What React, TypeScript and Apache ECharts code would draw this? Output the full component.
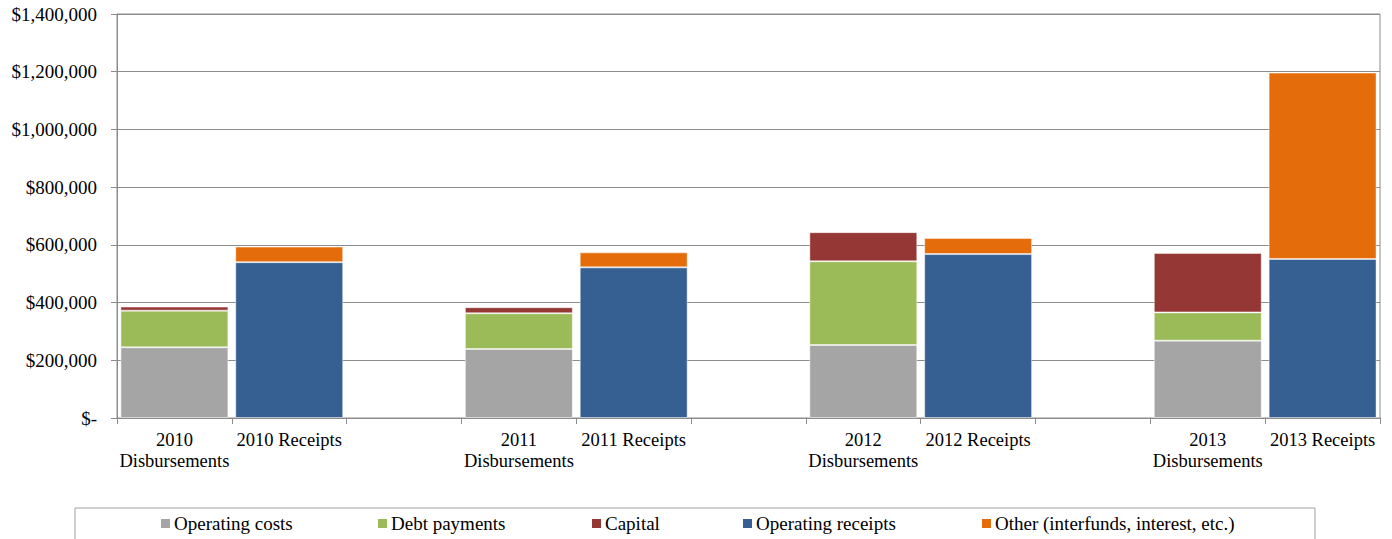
import React, { useEffect, useRef } from "react";
import * as echarts from "echarts";

const years = ["2010", "2011", "2012", "2013"];
const operatingCosts = [245000, 239000, 253000, 268000];
const debtPayments = [127000, 124000, 290000, 98000];
const capital = [14000, 21000, 101000, 206000];
const operatingReceipts = [540000, 522000, 568000, 551000];
const otherReceipts = [54000, 52000, 56000, 646000];
const yTicks = [0, 200000, 400000, 600000, 800000, 1000000, 1200000, 1400000];

const seriesNames = [
  "Operating costs",
  "Debt payments",
  "Capital",
  "Operating receipts",
  "Other (interfunds, interest, etc.)",
];
const seriesColors = ["#A5A5A5", "#9BBB59", "#953735", "#376092", "#E46C0A"];
const legendLefts = [161, 378, 592, 743, 982];

const FONT = "Liberation Serif";

// Build category list: disbursements, receipts, spacer per year
const categories: string[] = [];
years.forEach((y, i) => {
  categories.push(`${y}\nDisbursements`);
  categories.push(`${y} Receipts`);
  if (i < years.length - 1) categories.push(" ".repeat(i + 1));
});

function slotData(values: number[], offset: number) {
  const arr: (number | string)[] = categories.map(() => "-");
  values.forEach((v, i) => {
    arr[i * 3 + offset] = v;
  });
  return arr;
}

export default function App() {
  const ref = useRef<HTMLDivElement>(null);
  useEffect(() => {
    if (!ref.current) return;
    const chart = echarts.init(ref.current, undefined, { renderer: "svg" });
    const dataSets = [
      slotData(operatingCosts, 0),
      slotData(debtPayments, 0),
      slotData(capital, 0),
      slotData(operatingReceipts, 1),
      slotData(otherReceipts, 1),
    ];
    const legendGraphics: any[] = [];
    seriesNames.forEach((n, i) => {
      legendGraphics.push({
        type: "rect",
        shape: { x: legendLefts[i], y: 519, width: 9, height: 9 },
        style: { fill: seriesColors[i] },
        silent: true,
      });
      legendGraphics.push({
        type: "text",
        x: legendLefts[i] + 13,
        y: 523.5,
        style: {
          text: n,
          fill: "#000",
          fontFamily: FONT,
          fontSize: 19,
          verticalAlign: "middle",
        },
        silent: true,
      });
    });
    chart.setOption({
      animation: false,
      backgroundColor: "#ffffff",
      textStyle: { fontFamily: FONT },
      grid: {
        left: 117,
        right: 12,
        top: 14,
        bottom: 121,
        show: true,
        borderColor: "#8c8c8c",
        borderWidth: 1,
        containLabel: false,
      },
      graphic: [
        {
          type: "rect",
          shape: { x: 75, y: 508, width: 1240, height: 40 },
          style: { fill: "none", stroke: "#a0a0a0", lineWidth: 1 },
          silent: true,
        },
        ...legendGraphics,
      ],
      xAxis: {
        type: "category",
        data: categories,
        axisLine: { lineStyle: { color: "#8c8c8c", width: 1 } },
        axisTick: { show: true, length: 6, lineStyle: { color: "#8c8c8c" } },
        axisLabel: {
          interval: 0,
          color: "#000",
          fontFamily: FONT,
          fontSize: 18.5,
          lineHeight: 21,
          margin: 11,
        },
      },
      yAxis: {
        type: "value",
        min: 0,
        max: 1400000,
        interval: 200000,
        axisLine: { show: true, lineStyle: { color: "#8c8c8c", width: 1 } },
        axisTick: { show: true, length: 6, lineStyle: { color: "#8c8c8c" } },
        splitLine: { lineStyle: { color: "#8c8c8c", width: 1 } },
        axisLabel: {
          color: "#000",
          fontFamily: FONT,
          fontSize: 19,
          margin: 20,
          customValues: yTicks,
          formatter: (v: number) =>
            v === 0 ? "$-" : "$" + v.toLocaleString("en-US"),
        },
      },
      series: seriesNames.map((n, i) => ({
        name: n,
        type: "bar",
        stack: "total",
        data: dataSets[i],
        barWidth: "94%",
        itemStyle: {
          color: seriesColors[i],
          borderColor: "rgba(255,255,255,0.45)",
          borderWidth: 1,
        },
      })),
    });
    return () => chart.dispose();
  }, []);
  return (
    <div
      ref={ref}
      style={{ position: "absolute", left: 0, top: 0, width: 1392, height: 539 }}
    />
  );
}
